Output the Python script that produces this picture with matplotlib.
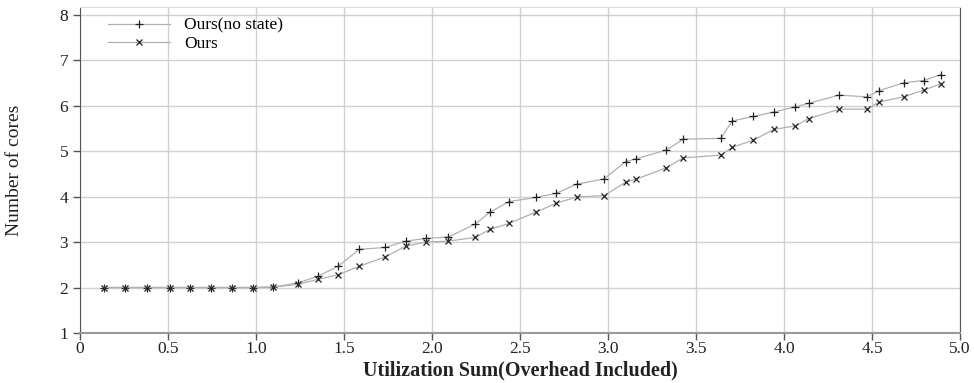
import matplotlib.pyplot as plt

util_sum = [0.138, 0.257, 0.379, 0.51, 0.624, 0.744, 0.862, 0.981, 1.098, 1.237,
            1.354, 1.468, 1.587, 1.733, 1.852, 1.966, 2.093, 2.244, 2.331, 2.439,
            2.591, 2.705, 2.822, 2.979, 3.102, 3.159, 3.33, 3.428, 3.642, 3.705,
            3.826, 3.945, 4.064, 4.14, 4.314, 4.472, 4.542, 4.68, 4.794, 4.892]
cores_no_state = [2, 2, 2, 2, 2, 2, 2, 2, 2.01, 2.10,
                  2.25, 2.47, 2.84, 2.88, 3.02, 3.08, 3.11, 3.39, 3.66, 3.89,
                  3.98, 4.07, 4.27, 4.39, 4.77, 4.83, 5.02, 5.26, 5.28, 5.66,
                  5.76, 5.86, 5.97, 6.05, 6.23, 6.19, 6.33, 6.50, 6.55, 6.68]
cores_ours = [2, 2, 2, 2, 2, 2, 2, 2, 2.01, 2.07,
              2.18, 2.28, 2.47, 2.67, 2.91, 3.00, 3.02, 3.10, 3.28, 3.41,
              3.66, 3.85, 3.99, 4.02, 4.32, 4.38, 4.63, 4.85, 4.91, 5.08,
              5.24, 5.48, 5.55, 5.71, 5.92, 5.92, 6.08, 6.19, 6.34, 6.48]
x_ticks = [0, 0.5, 1.0, 1.5, 2.0, 2.5, 3.0, 3.5, 4.0, 4.5, 5.0]
x_tick_labels = ["0", "0.5", "1.0", "1.5", "2.0", "2.5", "3.0", "3.5", "4.0", "4.5", "5.0"]
y_ticks = [1, 2, 3, 4, 5, 6, 7, 8]

plt.rcParams["font.family"] = ["Liberation Serif", "DejaVu Serif"]

fig = plt.figure(figsize=(9.74, 3.83), dpi=100)
ax = fig.add_axes([0.0821, 0.1305, 0.9035, 0.8505])

ax.plot(util_sum, cores_no_state, color="#b0b0b0", lw=0.9, marker="+",
        markersize=5.5, markeredgecolor="#222222", markeredgewidth=0.9,
        label="Ours(no state)")
ax.plot(util_sum, cores_ours, color="#b0b0b0", lw=0.9, marker="x",
        markersize=5, markeredgecolor="#222222", markeredgewidth=0.9,
        label="Ours")

ax.set_xlim(0, 5.0)
ax.set_ylim(1, 8.16)
ax.set_xticks(x_ticks)
ax.set_xticklabels(x_tick_labels)
ax.set_yticks(y_ticks)
ax.grid(True, color="#d0d0d0", lw=1.0)
ax.set_axisbelow(True)

ax.tick_params(axis="both", direction="out", length=5, width=1, color="#555555",
               labelsize=12.5, labelcolor="#222222")
ax.tick_params(axis="x", pad=1)
ax.spines["left"].set_color("#555555")
ax.spines["right"].set_color("#555555")
ax.spines["bottom"].set_color("#999999")
ax.spines["bottom"].set_linewidth(1.5)
ax.spines["top"].set_color("#dddddd")

ax.set_xlabel("Utilization Sum(Overhead Included)", fontsize=14.5, fontweight="bold",
              color="#222222", labelpad=2)
ax.set_ylabel("Number of cores", fontsize=14, color="#222222", labelpad=26)

ax.legend(loc="upper left", frameon=False, fontsize=12.5, handlelength=3.6,
          borderaxespad=0.2, labelspacing=0.1, bbox_to_anchor=(0.02, 1.0))

plt.savefig("out.png", dpi=100)
